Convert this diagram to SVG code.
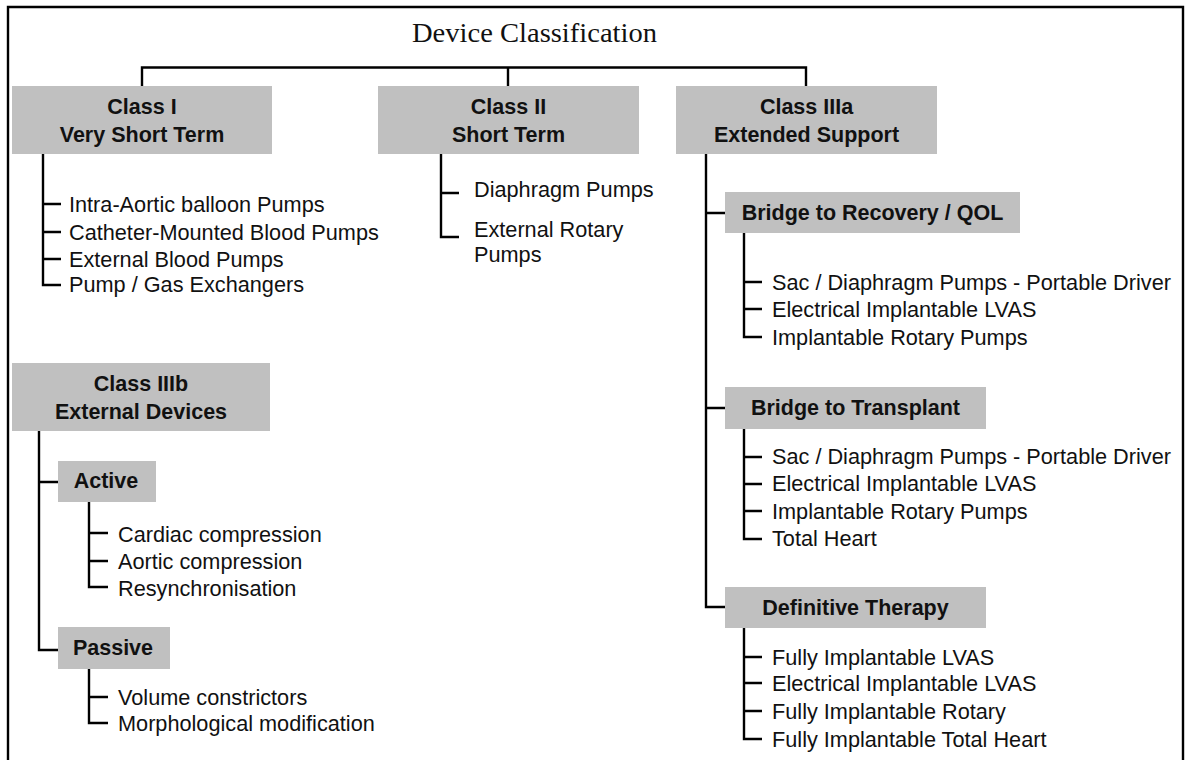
<svg xmlns="http://www.w3.org/2000/svg" width="1187" height="760" viewBox="0 0 1187 760">
<style>
.box{fill:#c0c0c0}
.hd{font-family:"Liberation Sans",Arial,sans-serif;font-weight:bold;font-size:21.5px;fill:#111;text-anchor:middle}
.it{font-family:"Liberation Sans",Arial,sans-serif;font-size:21.7px;fill:#111}
.ln{fill:none;stroke:#000;stroke-width:2.4}
.title{font-family:"Liberation Serif","Times New Roman",serif;font-size:26.5px;fill:#111}
</style>
<rect width="1187" height="760" fill="#fff"/>
<path class="ln" d="M8,760 V7 H1183 V760" stroke-width="2.2"/>
<text class="title" x="412" y="42" textLength="245" lengthAdjust="spacingAndGlyphs">Device Classification</text>

<g id="connectors">
<path class="ln" d="M142,86 V67.5 H806 V86 M508,67.5 V86"/>
<path class="ln" d="M43,154 V285 H61 M43,204 H61 M43,232 H61 M43,259 H61"/>
<path class="ln" d="M441,154 V237 H459 M441,193 H459"/>
<path class="ln" d="M706,154 V607 H725 M706,213 H725 M706,408 H725"/>
<path class="ln" d="M744,233 V337 H762 M744,282 H762 M744,309 H762"/>
<path class="ln" d="M744,429 V539 H762 M744,457 H762 M744,484 H762 M744,511 H762"/>
<path class="ln" d="M744,628 V739 H762 M744,657 H762 M744,683 H762 M744,711 H762"/>
<path class="ln" d="M39,431 V650 H58 M39,482 H58"/>
<path class="ln" d="M89,502 V587 H108 M89,533 H108 M89,561 H108"/>
<path class="ln" d="M89,669 V723 H108 M89,697 H108"/>
</g>

<g id="class-i">
<rect class="box" x="12" y="86" width="260" height="68"/>
<text class="hd" x="142" y="113.5">Class I</text>
<text class="hd" x="142" y="141.5">Very Short Term</text>
</g>
<g id="class-i-items">
<text class="it" x="69" y="212">Intra-Aortic balloon Pumps</text>
<text class="it" x="69" y="239.5">Catheter-Mounted Blood Pumps</text>
<text class="it" x="69" y="266.5">External Blood Pumps</text>
<text class="it" x="69" y="292">Pump / Gas Exchangers</text>
</g>

<g id="class-ii">
<rect class="box" x="378" y="86" width="261" height="68"/>
<text class="hd" x="508.5" y="113.5">Class II</text>
<text class="hd" x="508.5" y="141.5">Short Term</text>
</g>
<g id="class-ii-items">
<text class="it" x="474" y="197">Diaphragm Pumps</text>
<text class="it" x="474" y="237">External Rotary</text>
<text class="it" x="474" y="262">Pumps</text>
</g>

<g id="class-iiia">
<rect class="box" x="676" y="86" width="261" height="68"/>
<text class="hd" x="806.5" y="113.5">Class IIIa</text>
<text class="hd" x="806.5" y="141.5">Extended Support</text>
</g>

<g id="bridge-recovery">
<rect class="box" x="725" y="192" width="295" height="41"/>
<text class="hd" x="872.5" y="220">Bridge to Recovery / QOL</text>
</g>
<g id="bridge-recovery-items">
<text class="it" x="772" y="290">Sac / Diaphragm Pumps - Portable Driver</text>
<text class="it" x="772" y="317">Electrical Implantable LVAS</text>
<text class="it" x="772" y="344.5">Implantable Rotary Pumps</text>
</g>

<g id="bridge-transplant">
<rect class="box" x="725" y="387" width="261" height="42"/>
<text class="hd" x="855.5" y="415">Bridge to Transplant</text>
</g>
<g id="bridge-transplant-items">
<text class="it" x="772" y="464">Sac / Diaphragm Pumps - Portable Driver</text>
<text class="it" x="772" y="491">Electrical Implantable LVAS</text>
<text class="it" x="772" y="518.5">Implantable Rotary Pumps</text>
<text class="it" x="772" y="546">Total Heart</text>
</g>

<g id="definitive-therapy">
<rect class="box" x="725" y="587" width="261" height="41"/>
<text class="hd" x="855.5" y="615">Definitive Therapy</text>
</g>
<g id="definitive-therapy-items">
<text class="it" x="772" y="664.5">Fully Implantable LVAS</text>
<text class="it" x="772" y="691">Electrical Implantable LVAS</text>
<text class="it" x="772" y="718.5">Fully Implantable Rotary</text>
<text class="it" x="772" y="746.5">Fully Implantable Total Heart</text>
</g>

<g id="class-iiib">
<rect class="box" x="12" y="363" width="258" height="68"/>
<text class="hd" x="141" y="391">Class IIIb</text>
<text class="hd" x="141" y="418.5">External Devices</text>
</g>

<g id="active">
<rect class="box" x="58" y="461" width="98" height="41"/>
<text class="hd" x="106" y="488">Active</text>
</g>
<g id="active-items">
<text class="it" x="118" y="541.5">Cardiac compression</text>
<text class="it" x="118" y="568.5">Aortic compression</text>
<text class="it" x="118" y="595.5">Resynchronisation</text>
</g>

<g id="passive">
<rect class="box" x="58" y="627" width="112" height="42"/>
<text class="hd" x="113" y="655">Passive</text>
</g>
<g id="passive-items">
<text class="it" x="118" y="704.5">Volume constrictors</text>
<text class="it" x="118" y="731">Morphological modification</text>
</g>
</svg>
